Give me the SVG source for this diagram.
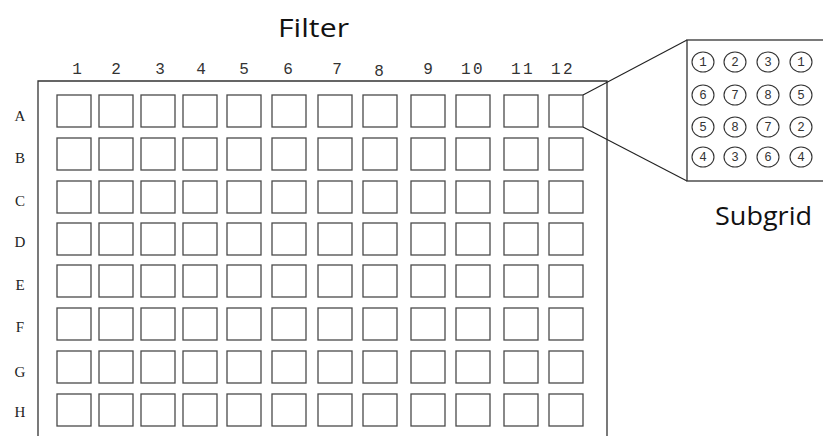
<svg xmlns="http://www.w3.org/2000/svg" width="823" height="436" viewBox="0 0 823 436">
<style>
.bg{fill:#fff}
.well{fill:#fff;stroke:#4a4a4a;stroke-width:1.3}
.plate{fill:none;stroke:#333;stroke-width:1.3}
.conn{fill:none;stroke:#222;stroke-width:1.1}
.col{font-family:"Liberation Mono",monospace;font-size:16px;fill:#333;text-anchor:middle}
.wide{letter-spacing:2.5px}
.row{font-family:"Liberation Serif",serif;font-size:15px;fill:#222;text-anchor:middle}
.title{font-family:"Open Sans","DejaVu Sans",sans-serif;font-size:26px;fill:#111}
.cell{fill:#fff;stroke:#333;stroke-width:1.1}
.num{font-family:"Liberation Mono",monospace;font-size:12.5px;fill:#333;text-anchor:middle}
</style>
<rect class="bg" x="0" y="0" width="823" height="436"/>
<g id="title"><text class="title" x="278" y="37" textLength="71" lengthAdjust="spacingAndGlyphs">Filter</text></g>
<g id="plate">
<path class="plate" d="M38,436 V81 H607 V436"/>
</g>
<g id="col-labels">
<text class="col" x="77" y="74">1</text>
<text class="col" x="116" y="74">2</text>
<text class="col" x="160" y="74">3</text>
<text class="col" x="201" y="74">4</text>
<text class="col" x="244" y="74">5</text>
<text class="col" x="288" y="74">6</text>
<text class="col" x="337" y="74">7</text>
<text class="col" x="379" y="76">8</text>
<text class="col" x="428" y="74">9</text>
<text class="col wide" x="473" y="74">10</text>
<text class="col wide" x="523" y="74">11</text>
<text class="col wide" x="563" y="74">12</text>
</g>
<g id="row-labels">
<text class="row" x="20" y="121">A</text>
<text class="row" x="20" y="163">B</text>
<text class="row" x="20" y="206">C</text>
<text class="row" x="20" y="247">D</text>
<text class="row" x="20" y="290">E</text>
<text class="row" x="20" y="332">F</text>
<text class="row" x="20" y="377">G</text>
<text class="row" x="20" y="417">H</text>
</g>
<defs>
<g id="rowwells">
<rect class="well" x="57" y="0" width="34" height="32"/>
<rect class="well" x="99" y="0" width="34" height="32"/>
<rect class="well" x="141" y="0" width="34" height="32"/>
<rect class="well" x="183" y="0" width="34" height="32"/>
<rect class="well" x="227" y="0" width="34" height="32"/>
<rect class="well" x="272" y="0" width="34" height="32"/>
<rect class="well" x="318" y="0" width="34" height="32"/>
<rect class="well" x="363" y="0" width="34" height="32"/>
<rect class="well" x="411" y="0" width="34" height="32"/>
<rect class="well" x="456" y="0" width="34" height="32"/>
<rect class="well" x="504" y="0" width="34" height="32"/>
<rect class="well" x="549" y="0" width="34" height="32"/>
</g>
</defs>
<g id="wells">
<use href="#rowwells" y="95"/>
<use href="#rowwells" y="138"/>
<use href="#rowwells" y="181"/>
<use href="#rowwells" y="223"/>
<use href="#rowwells" y="265"/>
<use href="#rowwells" y="308"/>
<use href="#rowwells" y="351"/>
<use href="#rowwells" y="394"/>
</g>
<g id="connectors">
<line class="conn" x1="583" y1="95" x2="687" y2="40"/>
<line class="conn" x1="583" y1="127" x2="687" y2="181"/>
</g>
<g id="subgrid">
<rect class="plate" x="687" y="40" width="200" height="141"/>
<g>
<ellipse class="cell" cx="703" cy="62" rx="11" ry="10"/><text class="num" x="703" y="66">1</text>
<ellipse class="cell" cx="735" cy="62" rx="11" ry="10"/><text class="num" x="735" y="66">2</text>
<ellipse class="cell" cx="768" cy="62" rx="11" ry="10"/><text class="num" x="768" y="66">3</text>
<ellipse class="cell" cx="801" cy="62" rx="11" ry="10"/><text class="num" x="801" y="66">1</text>
<ellipse class="cell" cx="703" cy="95" rx="11" ry="10"/><text class="num" x="703" y="99">6</text>
<ellipse class="cell" cx="735" cy="95" rx="11" ry="10"/><text class="num" x="735" y="99">7</text>
<ellipse class="cell" cx="768" cy="95" rx="11" ry="10"/><text class="num" x="768" y="99">8</text>
<ellipse class="cell" cx="801" cy="95" rx="11" ry="10"/><text class="num" x="801" y="99">5</text>
<ellipse class="cell" cx="703" cy="127" rx="11" ry="10"/><text class="num" x="703" y="131">5</text>
<ellipse class="cell" cx="735" cy="127" rx="11" ry="10"/><text class="num" x="735" y="131">8</text>
<ellipse class="cell" cx="768" cy="127" rx="11" ry="10"/><text class="num" x="768" y="131">7</text>
<ellipse class="cell" cx="801" cy="127" rx="11" ry="10"/><text class="num" x="801" y="131">2</text>
<ellipse class="cell" cx="703" cy="157" rx="11" ry="10"/><text class="num" x="703" y="161">4</text>
<ellipse class="cell" cx="735" cy="157" rx="11" ry="10"/><text class="num" x="735" y="161">3</text>
<ellipse class="cell" cx="768" cy="157" rx="11" ry="10"/><text class="num" x="768" y="161">6</text>
<ellipse class="cell" cx="801" cy="157" rx="11" ry="10"/><text class="num" x="801" y="161">4</text>
</g>
<text class="title" x="715" y="225" textLength="97" lengthAdjust="spacingAndGlyphs">Subgrid</text>
</g>
</svg>
